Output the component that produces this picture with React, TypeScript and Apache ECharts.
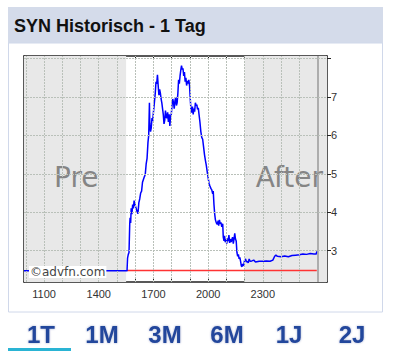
import React, { useEffect, useRef } from "react";
import * as echarts from "echarts";

// ---- data ----
const title = "SYN Historisch - 1 Tag";
const tabs = ["1T", "1M", "3M", "6M", "1J", "2J"];
const prevClose = 2.48;
const redStart = 15.55;
const redEnd = 25.96;

const hours = [
  9.9, 15.55, 15.58, 15.62, 15.66, 15.7, 15.72, 15.75, 15.78, 15.82, 15.86, 15.9, 15.94, 15.98, 16.02, 16.06, 16.1,
  16.15, 16.2, 16.25, 16.3, 16.35, 16.4, 16.45, 16.5, 16.55, 16.6, 16.65, 16.7, 16.74, 16.78, 16.8, 16.84, 16.88,
  16.92, 16.96, 17.0, 17.05, 17.1, 17.14, 17.18, 17.22, 17.26, 17.3, 17.34, 17.38, 17.42, 17.46, 17.5, 17.54, 17.58,
  17.62, 17.66, 17.7, 17.74, 17.78, 17.82, 17.86, 17.9, 17.94, 17.98, 18.02, 18.06, 18.1, 18.14, 18.18, 18.22, 18.26,
  18.3, 18.34, 18.38, 18.42, 18.46, 18.5, 18.54, 18.58, 18.62, 18.66, 18.7, 18.74, 18.78, 18.82, 18.86, 18.9, 18.94,
  18.98, 19.02, 19.06, 19.1, 19.14, 19.18, 19.22, 19.26, 19.3, 19.34, 19.38, 19.42, 19.46, 19.5, 19.55, 19.6, 19.65,
  19.7, 19.75, 19.8, 19.85, 19.9, 19.95, 20.0, 20.05, 20.1, 20.15, 20.2, 20.25, 20.28, 20.32, 20.36, 20.4, 20.45,
  20.5, 20.55, 20.58, 20.62, 20.66, 20.7, 20.75, 20.8, 20.83, 20.87, 20.9, 20.94, 20.98, 21.02, 21.06, 21.1, 21.14,
  21.18, 21.22, 21.26, 21.3, 21.34, 21.38, 21.42, 21.46, 21.5, 21.54, 21.58, 21.62, 21.66, 21.7, 21.74, 21.78, 21.82,
  21.86, 21.9, 21.95, 22.0, 22.05, 22.1, 22.15, 22.2, 22.25, 22.3, 22.4, 22.5, 22.6, 22.8, 23.0, 23.2, 23.4, 23.55,
  23.65, 23.72, 23.8, 24.0, 24.2, 24.4, 24.6, 24.8, 25.0, 25.2, 25.4, 25.6, 25.8, 25.93, 25.96,
];
const prices = [
  2.47, 2.47, 2.8, 2.9, 2.95, 3.7, 3.85, 3.72, 4.1, 3.95, 4.2, 4.1, 4.3, 4.22, 4.15, 4.08, 4.02,
  3.96, 4.25, 4.35, 4.5, 4.55, 4.78, 4.85, 4.92, 4.98, 5.25, 5.4, 5.82, 6.0, 6.85, 6.3, 6.1, 6.2,
  6.45, 6.38, 6.6, 6.85, 7.1, 7.4, 7.35, 7.58, 7.3, 7.05, 7.2, 7.1, 6.95, 6.85, 6.7, 6.55, 6.3,
  6.4, 6.65, 6.5, 6.45, 6.6, 6.35, 6.55, 6.25, 6.5, 6.55, 6.8, 6.95, 6.85, 6.7, 6.9, 7.0, 6.78,
  6.85, 7.1, 7.45, 7.35, 7.55, 7.7, 7.82, 7.72, 7.75, 7.55, 7.65, 7.4, 7.5, 7.3, 7.42, 7.35, 7.45,
  7.3, 6.95, 6.65, 6.6, 6.75, 6.55, 6.7, 6.62, 6.85, 6.78, 6.8, 6.68, 6.72, 6.55, 6.35, 6.1, 5.95,
  5.9, 5.7, 5.5, 5.35, 5.22, 5.05, 4.9, 4.75, 4.68, 4.62, 4.58, 4.48, 4.55, 4.2, 3.95, 3.8, 3.72,
  3.68, 3.78, 3.65, 3.8, 3.7, 3.73, 3.62, 3.7, 3.35, 3.25, 3.38, 3.22, 3.3, 3.18, 3.32, 3.25, 3.4,
  3.2, 3.3, 3.22, 3.28, 3.35, 3.18, 3.3, 3.45, 3.3, 3.25, 2.95, 2.85, 2.9, 2.78, 2.82, 2.72, 2.6,
  2.58, 2.65, 2.6, 2.75, 2.78, 2.7, 2.72, 2.68, 2.78, 2.72, 2.73, 2.75, 2.7, 2.72, 2.72, 2.73, 2.72, 2.75,
  2.85, 2.88, 2.85, 2.84, 2.86, 2.84, 2.87, 2.88, 2.89, 2.91, 2.9, 2.92, 2.91, 2.91, 2.98,
];

const X_MIN = 9.9;
const X_MAX = 26.52;
const Y_MIN = 2.18;
const Y_MAX = 8.07;
const hourTicks = [10, 11, 12, 13, 14, 15, 16, 17, 18, 19, 20, 21, 22, 23, 24, 25, 26];
const xLabelHours = [11, 14, 17, 20, 23];
const xTickLabels = ["1100", "1400", "1700", "2000", "2300"];
const yGridValues = [3, 4, 5, 6, 7, 8];
const yLabelValues = [3, 4, 5, 6, 7];
const yHalfTicks = [2.5, 3, 3.5, 4, 4.5, 5, 5.5, 6, 6.5, 7, 7.5, 8];
const yMinorRight = [2.5, 3.5, 4.5, 5.5, 6.5, 7.5];
const preSession = [X_MIN, 15.5];
const afterSession = [22, X_MAX];

export default function App() {
  const ref = useRef<HTMLDivElement>(null);
  useEffect(() => {
    const chart = echarts.init(ref.current!, undefined, { renderer: "svg" });
    const axisColor = "#222";
    const gridStyle = { color: "#b9c0b9", width: 1, type: [2, 1] as any };
    const tabCenters = [41, 102, 165, 227, 289, 352];

    const graphics: any[] = [
      { type: "rect", shape: { x: 8, y: 7, width: 375, height: 36 }, style: { fill: "#d4dbea" }, z: 0 },
      { type: "rect", shape: { x: 8.5, y: 43, width: 374, height: 269 }, style: { fill: "none", stroke: "#d0d8ea", lineWidth: 1 }, z: 0 },
      {
        type: "text", x: 14, y: 26,
        style: { text: title, fill: "#111", font: "bold 18px 'Liberation Sans', Arial, sans-serif", verticalAlign: "middle" },
      },
      { type: "rect", shape: { x: 8, y: 348, width: 63, height: 3 }, style: { fill: "#2ab4d4" } },
      {
        type: "text", x: 54, y: 177, z: 5,
        style: { text: "Pre", fill: "#858585", font: "28px 'DejaVu Sans', sans-serif", verticalAlign: "middle" },
      },
      {
        type: "text", x: 323, y: 177, z: 5,
        style: { text: "After", fill: "#858585", font: "28px 'DejaVu Sans', sans-serif", verticalAlign: "middle", align: "right" },
      },
      {
        type: "text", x: 29, y: 272, z: 100,
        style: {
          text: "©advfn.com", fill: "#444", font: "12px 'DejaVu Sans', sans-serif", verticalAlign: "middle",
          backgroundColor: "#ffffff", padding: [0, 1, 0, 1],
        },
      },
    ];
    tabs.forEach((t, i) => {
      graphics.push({
        type: "text", x: tabCenters[i], y: 334,
        style: {
          text: t, fill: "#24469c", font: "bold 24px 'Liberation Sans', Arial, sans-serif",
          align: "center", verticalAlign: "middle",
          textShadowColor: "rgba(20,40,120,0.35)", textShadowBlur: 2,
        },
      });
    });

    const blueData = hours.map((h, i) => [h, prices[i]]);

    chart.setOption({
      animation: false,
      backgroundColor: "#ffffff",
      grid: { left: 24, right: 67, top: 56, bottom: 69, containLabel: false },
      xAxis: [
        {
          type: "value", position: "bottom", min: X_MIN, max: X_MAX,
          axisLine: { show: true, onZero: false, lineStyle: { color: axisColor, width: 1.5 } },
          axisTick: { show: true, inside: true, length: 3, customValues: hourTicks, lineStyle: { color: axisColor } },
          axisLabel: {
            customValues: xLabelHours, margin: 6, fontSize: 11, color: "#333", fontFamily: "'Liberation Sans', Arial, sans-serif",
            formatter: (v: number) => xTickLabels[xLabelHours.indexOf(Math.round(v))] ?? "",
          },
          splitLine: { show: false },
        },
        {
          type: "value", position: "top", min: X_MIN, max: X_MAX,
          axisLine: { show: true, onZero: false, lineStyle: { color: axisColor, width: 1.5 } },
          axisTick: { show: true, inside: true, length: 3, customValues: hourTicks, lineStyle: { color: axisColor } },
          axisLabel: { show: false },
          splitLine: { show: false },
        },
      ],
      yAxis: [
        {
          type: "value", position: "left", min: Y_MIN, max: Y_MAX,
          axisLine: { show: true, onZero: false, lineStyle: { color: axisColor, width: 1.5 } },
          axisTick: { show: true, inside: true, length: 3, customValues: yHalfTicks, lineStyle: { color: axisColor } },
          axisLabel: { show: false },
          splitLine: { show: false },
        },
        {
          type: "value", position: "right", min: Y_MIN, max: Y_MAX,
          axisLine: { show: true, onZero: false, lineStyle: { color: axisColor, width: 1.5 } },
          axisTick: { show: true, inside: false, length: 4, customValues: yGridValues, lineStyle: { color: axisColor } },
          axisLabel: {
            customValues: yLabelValues, margin: 4, fontSize: 11, color: "#333",
            fontFamily: "'Liberation Sans', Arial, sans-serif",
          },
          splitLine: { show: false },
        },
        {
          type: "value", position: "right", min: Y_MIN, max: Y_MAX,
          axisLine: { show: false },
          axisTick: { show: true, inside: true, length: 2, customValues: yMinorRight, lineStyle: { color: axisColor } },
          axisLabel: { show: false },
          splitLine: { show: false },
        },
      ],
      graphic: graphics,
      series: [
        {
          type: "line", name: "sessions", data: [], z: 1, silent: true,
          markArea: {
            silent: true,
            itemStyle: { color: "#e8e8e8" },
            data: [
              [{ xAxis: preSession[0] }, { xAxis: preSession[1] }],
              [{ xAxis: afterSession[0] }, { xAxis: afterSession[1] }],
            ],
          },
        },
        {
          type: "line", name: "grid", data: [], z: 2, silent: true,
          markLine: {
            silent: true, symbol: ["none", "none"], label: { show: false },
            lineStyle: gridStyle,
            data: [
              ...hourTicks.map((h) =>
                h === 26
                  ? { xAxis: h, lineStyle: { color: "#9a9a9a", width: 1.5, type: "solid" } }
                  : { xAxis: h }
              ),
              ...yGridValues.map((v) => ({ yAxis: v })),
            ],
          },
        },
        {
          type: "line", name: "Vortag", z: 3, silent: true, showSymbol: false,
          data: [[redStart, prevClose], [redEnd, prevClose]],
          lineStyle: { color: "#ff3333", width: 1.5 },
        },
        {
          type: "line", name: "SYN", z: 4, silent: true, showSymbol: false,
          data: blueData,
          lineStyle: { color: "#0000ff", width: 1.5 },
        },
      ],
    });
    return () => chart.dispose();
  }, []);

  return (
    <div
      ref={ref}
      style={{ position: "absolute", left: 0, top: 0, width: 394, height: 351 }}
    />
  );
}
